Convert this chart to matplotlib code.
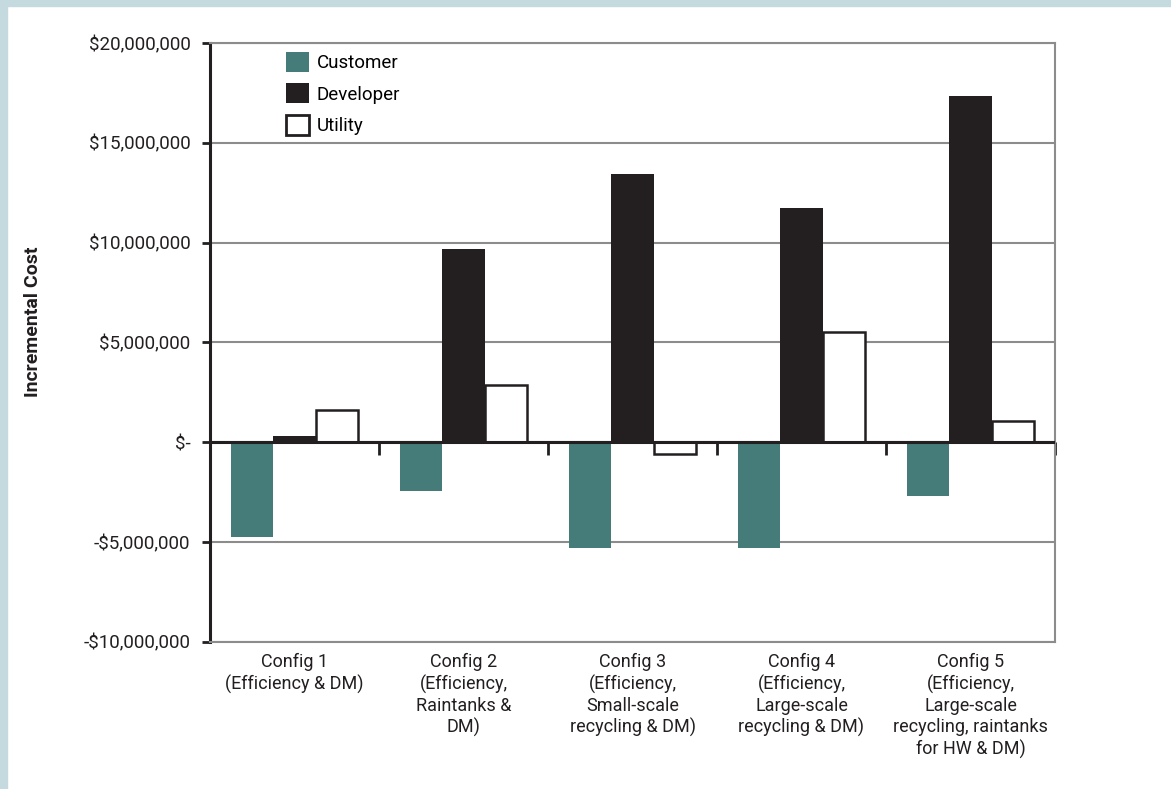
import numpy as np
import matplotlib
matplotlib.use("Agg")
import matplotlib.pyplot as plt
from matplotlib.patches import Rectangle, Patch
from matplotlib.ticker import FuncFormatter, MultipleLocator

plt.rcParams["font.family"] = ["Roboto", "DejaVu Sans"]

configs = [
    "Config 1\n(Efficiency & DM)",
    "Config 2\n(Efficiency,\nRaintanks &\nDM)",
    "Config 3\n(Efficiency,\nSmall-scale\nrecycling & DM)",
    "Config 4\n(Efficiency,\nLarge-scale\nrecycling & DM)",
    "Config 5\n(Efficiency,\nLarge-scale\nrecycling, raintanks\nfor HW & DM)",
]
customer = [-4.77e6, -2.46e6, -5.32e6, -5.32e6, -2.68e6]
developer = [0.33e6, 9.70e6, 13.46e6, 11.75e6, 17.32e6]
utility = [1.60e6, 2.86e6, -0.57e6, 5.50e6, 1.04e6]

TEAL = "#457b78"
DARK = "#231f20"
GRID = "#8c8c8c"
BAND = "#c5dadf"

fig = plt.figure(figsize=(11.71, 7.89), dpi=100)
fig.patch.set_facecolor("white")
fig.patches.append(Rectangle((0, 1 - 6 / 789), 1, 6 / 789, transform=fig.transFigure,
                             color=BAND, zorder=0))
fig.patches.append(Rectangle((0, 0), 7 / 1171, 1, transform=fig.transFigure,
                             color=BAND, zorder=0))

ax = fig.add_axes([210 / 1171, 1 - 641.7 / 789, 845 / 1171, (641.7 - 43) / 789])

x = np.arange(1, len(configs) + 1)
w = 0.25
ax.bar(x - w, customer, w, color=TEAL, zorder=3, label="Customer")
ax.bar(x, developer, w, color=DARK, zorder=3, label="Developer")
ax.bar(x + w, utility, w, facecolor="white", edgecolor=DARK, linewidth=1.8,
       zorder=3, label="Utility")

ax.set_xlim(0.5, len(configs) + 0.5)
ax.set_ylim(-10e6, 20e6)
ax.yaxis.set_major_locator(MultipleLocator(5e6))


def money(v, pos):
    if abs(v) < 1:
        return "$-"
    s = "${:,.0f}".format(abs(v))
    return "-" + s if v < 0 else s


ax.yaxis.set_major_formatter(FuncFormatter(money))
ax.grid(axis="y", color=GRID, linewidth=1.5, zorder=1)
ax.set_axisbelow(True)
ax.axhline(0, color=DARK, linewidth=2.2, zorder=4)

ax.set_xticks(x)
ax.set_xticklabels(configs, fontsize=13, color="#231f20", linespacing=1.23)
ax.tick_params(axis="x", length=0, pad=8)
ax.tick_params(axis="y", direction="out", length=6, width=2, color=DARK,
               labelsize=13.5, labelcolor="#231f20", pad=8)

for side in ["top", "right", "bottom"]:
    ax.spines[side].set_color(GRID)
    ax.spines[side].set_linewidth(1.5)
ax.spines["left"].set_color(DARK)
ax.spines["left"].set_linewidth(2.2)

# category separators on the zero line
sec = ax.secondary_xaxis(1 / 3)
sec.set_alignment("bottom")
sec.set_xticks(x + 0.5)
sec.set_xticklabels([])
sec.tick_params(direction="out", length=9, width=2, color=DARK, pad=0)
sec.spines["bottom"].set_visible(False)

ax.set_ylabel("Incremental Cost", fontsize=14, fontweight="bold", color="#231f20")
ax.yaxis.set_label_coords(-(210 - 42) / 845, 0.535)

handles = [
    Patch(facecolor=TEAL, edgecolor="none", label="Customer"),
    Patch(facecolor=DARK, edgecolor="none", label="Developer"),
    Patch(facecolor="white", edgecolor=DARK, linewidth=2, label="Utility"),
]
ax.legend(handles=handles, loc="upper left", bbox_to_anchor=(0.09, 0.985),
          frameon=False, fontsize=13.5, handlelength=1.25, handleheight=1.25,
          handletextpad=0.4, labelspacing=0.6, borderaxespad=0, borderpad=0)

plt.savefig("out.png", dpi=100)
